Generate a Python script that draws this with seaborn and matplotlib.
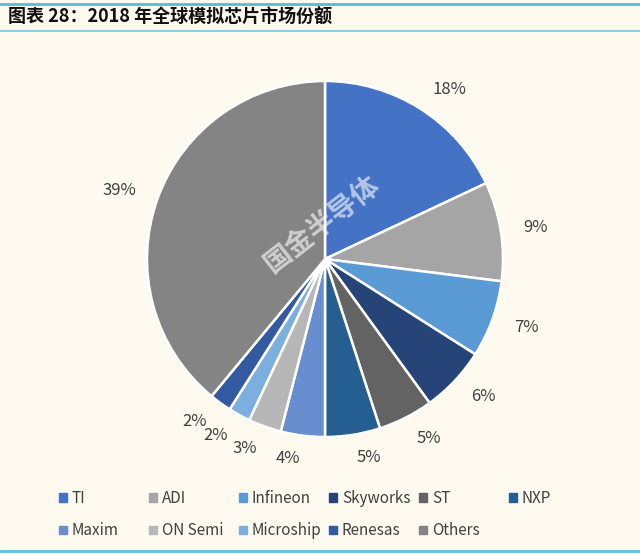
import matplotlib
matplotlib.use('Agg')
import matplotlib.pyplot as plt
import seaborn as sns
from matplotlib.lines import Line2D

# 2018 global analog chip market share (%)
companies = ['TI', 'ADI', 'Infineon', 'Skyworks', 'ST', 'NXP',
             'Maxim', 'ON Semi', 'Microship', 'Renesas', 'Others']
shares = [18, 9, 7, 6, 5, 5, 4, 3, 2, 2, 39]
colors = ['#4472C4', '#A5A5A5', '#5B9BD5', '#264478', '#636363', '#255E91',
          '#698ED0', '#B7B7B7', '#7CAFDD', '#335AA1', '#848484']

title = '图表 28：2018 年全球模拟芯片市场份额'
bg = '#FEFAF0'

sns.set_theme(style='white')
plt.rcParams['font.family'] = ['Noto Sans CJK SC', 'DejaVu Sans']

fig = plt.figure(figsize=(6.4, 5.54), dpi=100, facecolor=bg)

# header lines and title
fig.add_artist(Line2D([0, 1], [1 - 4 / 554, 1 - 4 / 554], color='#5BB8D6', lw=2))
fig.add_artist(Line2D([0, 1], [1 - 31 / 554, 1 - 31 / 554], color='#8CCFE3', lw=1.5))
fig.add_artist(Line2D([0, 1], [3 / 554, 3 / 554], color='#5BC3E0', lw=2))
fig.text(8 / 640, 1 - 17 / 554, title, fontsize=13, fontweight='bold',
         style='italic', color='#111111', va='center', ha='left')

ax = fig.add_axes([(325 - 178) / 640, (554 - 259 - 178) / 554, 356 / 640, 356 / 554])
ax.set_facecolor(bg)
wedges, texts = ax.pie(
    shares, colors=colors, startangle=90, counterclock=False,
    labels=[f'{v}%' for v in shares], labeldistance=1.13,
    wedgeprops=dict(edgecolor='white', linewidth=1.8),
    textprops=dict(fontsize=12, color='#404040'))
ax.set_xlim(-1, 1)
ax.set_ylim(-1, 1)
ax.set_aspect('equal')

# watermark
fig.text(322 / 640, 1 - 224 / 554, '国金半导体', fontsize=20, fontweight='bold',
         color='white', alpha=0.6, rotation=38, ha='center', va='center')

# legend: 6 fixed-width columns, filled row by row
ncol = 6
for c in range(ncol):
    idx = [i for i in (c, c + ncol) if i < len(companies)]
    handles = [plt.Rectangle((0, 0), 1, 1, color=colors[i]) for i in idx]
    leg = fig.legend(handles, [companies[i] for i in idx], loc='upper left',
                     bbox_to_anchor=((59 + 90 * c) / 640, 1 - 490 / 554),
                     frameon=False, fontsize=11, borderpad=0, borderaxespad=0,
                     handlelength=0.5, handleheight=0.5, handletextpad=0.35,
                     labelspacing=1.0)
    for t in leg.get_texts():
        t.set_color('#404040')

fig.savefig('out.png', dpi=100, facecolor=bg)
